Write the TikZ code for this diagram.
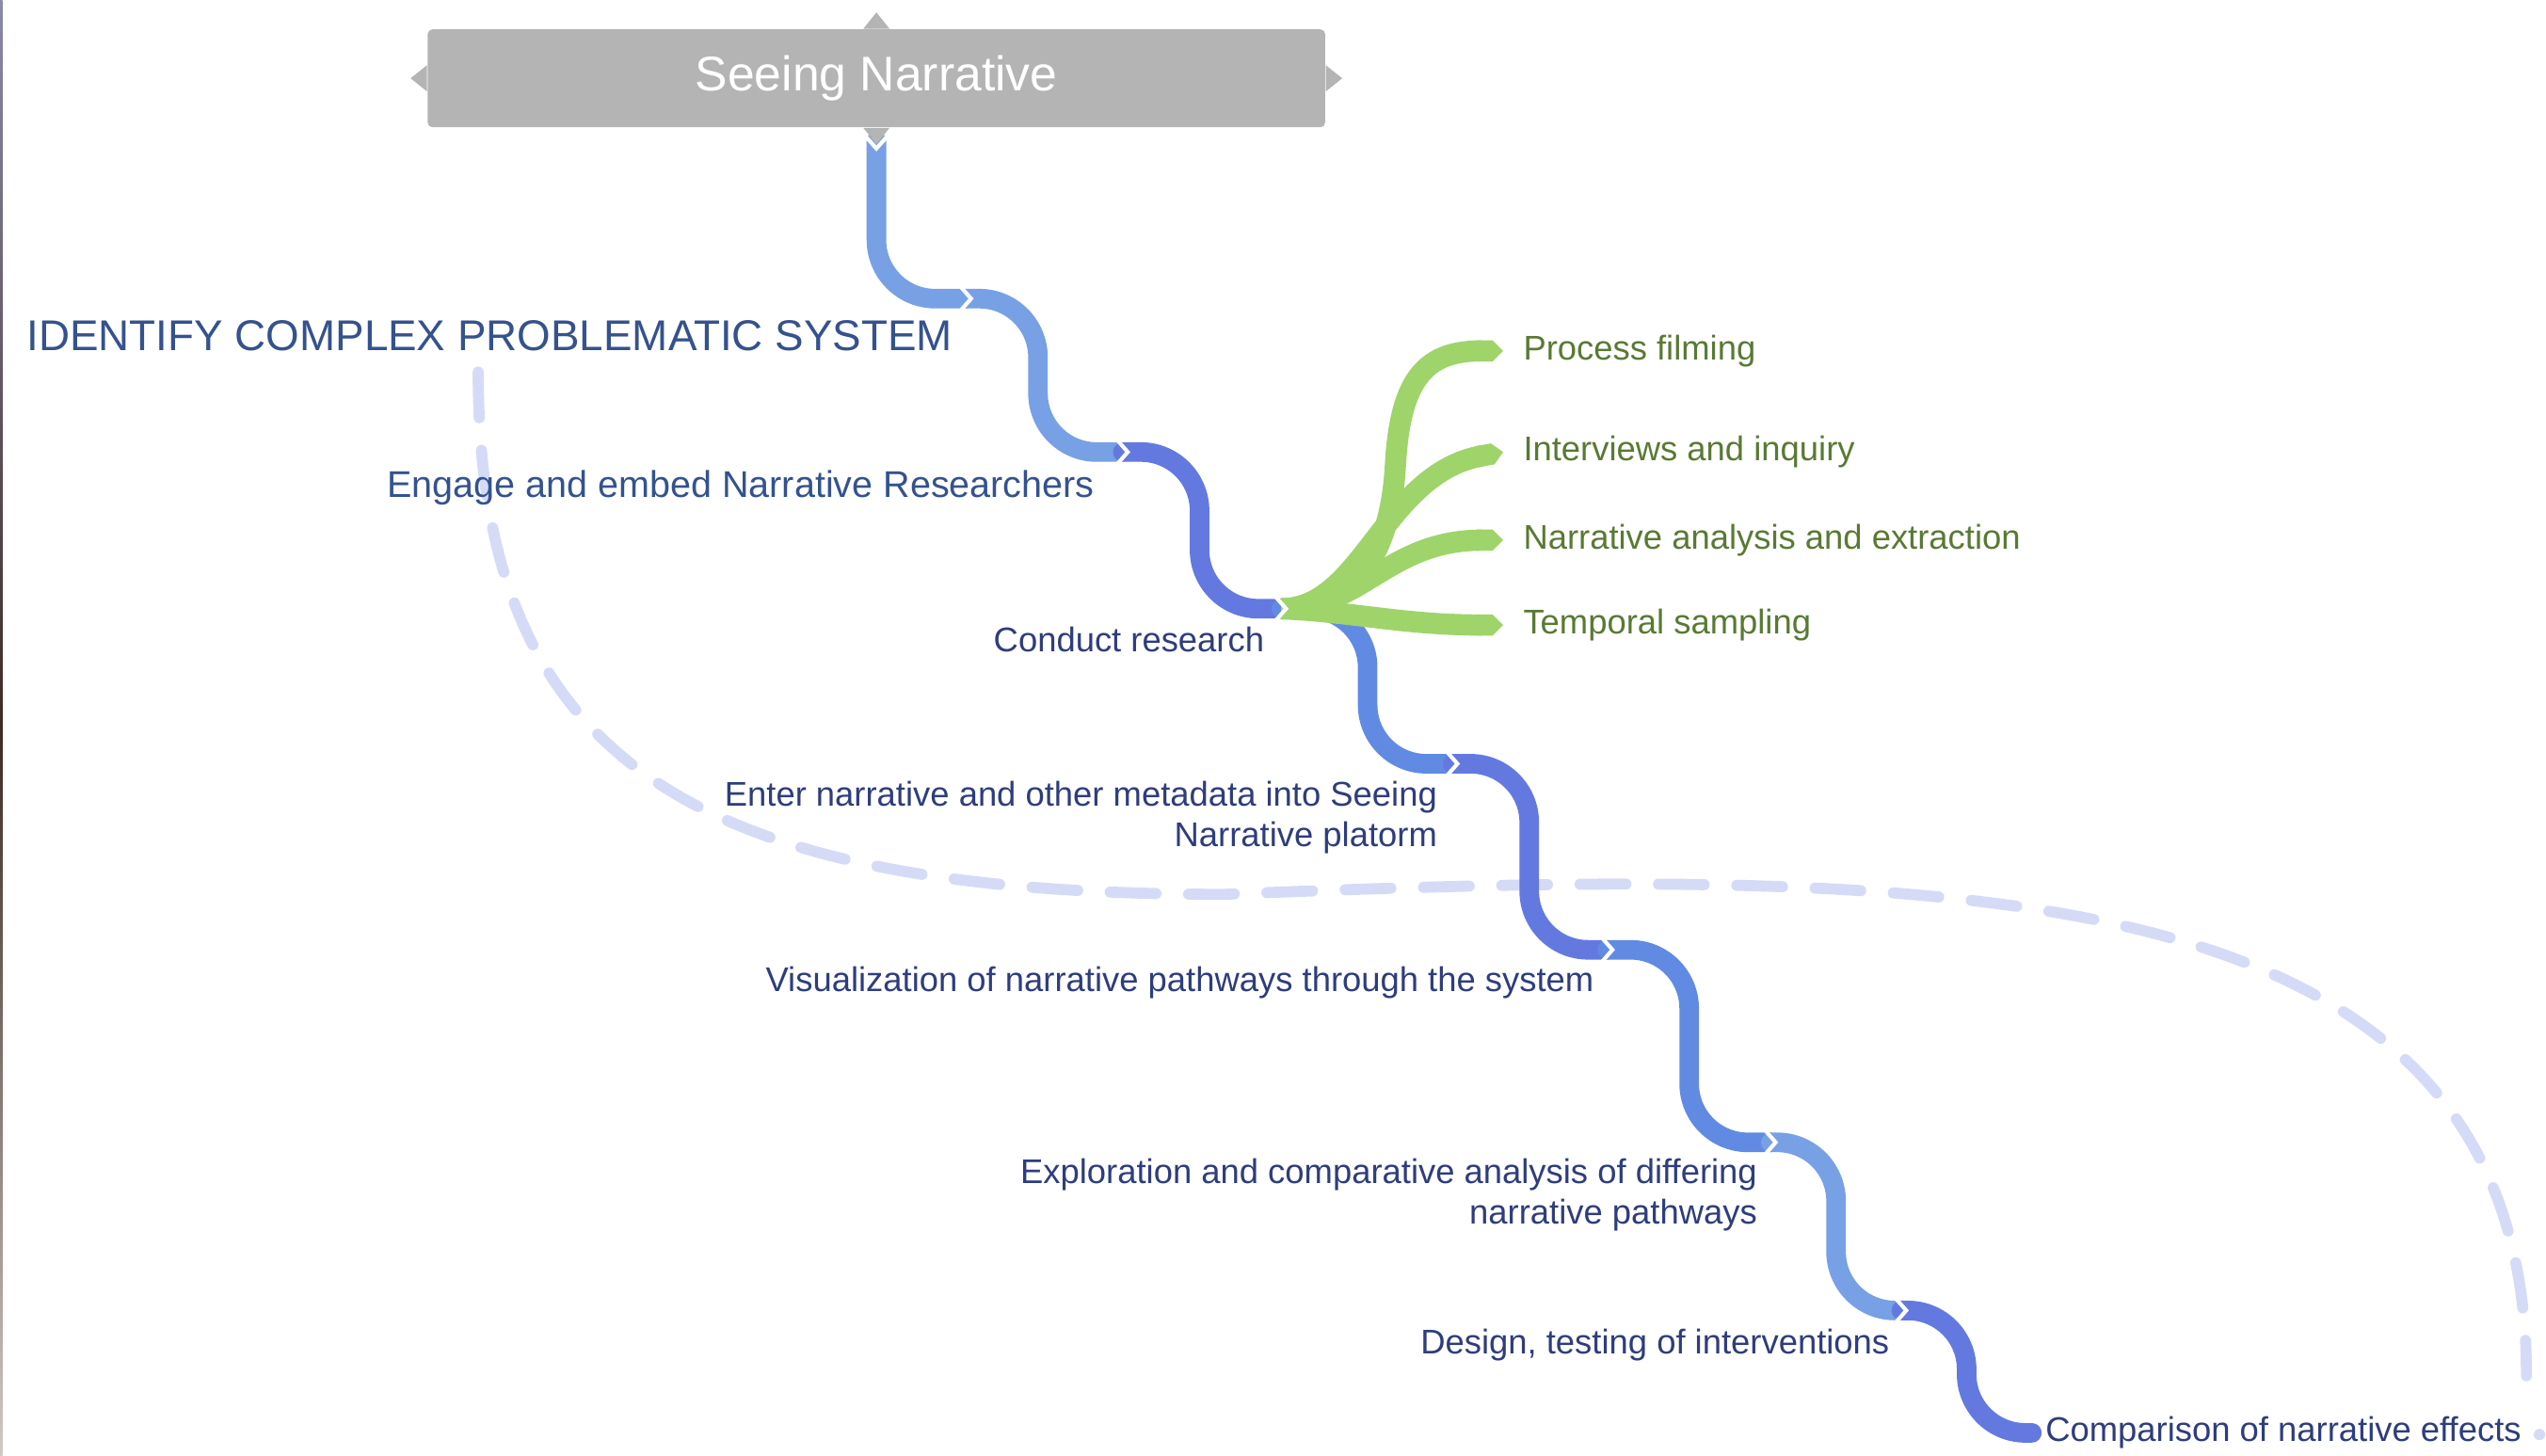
\documentclass[tikz,border=0pt]{standalone}
\usepackage{fontspec}
\setmainfont{Liberation Sans}
\usepackage{tikz}
\usetikzlibrary{arrows.meta}
\definecolor{boxgray}{HTML}{B4B4B4}
\definecolor{blueA}{HTML}{78A0E5}
\definecolor{blueB}{HTML}{6479E0}
\definecolor{blueC}{HTML}{618BE2}
\definecolor{leafgreen}{HTML}{9FD46A}
\definecolor{navytext}{HTML}{2E3D7C}
\definecolor{identtext}{HTML}{34528D}
\definecolor{leaftext}{HTML}{587A33}
\definecolor{relblue}{HTML}{D5DBF7}
\definecolor{edgetop}{HTML}{8A8AA8}
\definecolor{edgemid}{HTML}{3E2A24}
\definecolor{edgebot}{HTML}{D0C8C4}

\begin{document}
\begin{tikzpicture}[x=0.5pt,y=-0.5pt]
\tikzset{titlebox/.style = {fill=boxgray, text=white, rounded corners=1.5pt, minimum width=275pt, minimum height=30pt, font=\fontsize{14.9}{18}\selectfont}}
\tikzset{lbl/.style = {anchor=east, inner sep=0pt, text=navytext, align=right, font=\fontsize{10.5}{12.5}\selectfont}}
\tikzset{leaf/.style = {anchor=west, inner sep=0pt, text=leaftext, font=\fontsize{10.5}{12.5}\selectfont}}
\tikzset{pipe/.style = {line width=6pt, line cap=round, rounded corners=18pt}}
\tikzset{twig/.style = {leafgreen, line width=6.5pt, -{Triangle Cap[]}}}
\tikzset{notch/.style = {white, line width=1.2pt}}
\tikzset{rel/.style = {relblue, line width=3.4pt, line cap=round, dash pattern=on 14pt off 10pt}}
\useasboundingbox (0,0) rectangle (1560,892);
\shade[top color=edgetop, bottom color=edgebot, middle color=edgemid] (0,0) rectangle (1.5,892);
% joints
\coordinate (j1) at (592,183);
\coordinate (j2) at (688,277);
\coordinate (j3) at (785,373);
\coordinate (j4) at (890,468);
\coordinate (j5) at (985,582);
\coordinate (j6) at (1085,700);
\coordinate (j7) at (1165,803);
\coordinate (j8) at (1245,878);
\coordinate (rs) at (293,228);
\coordinate (re) at (1556,879);
% title
\node[titlebox] (root) at (537,48) {Seeing Narrative};
% relation
\draw[rel] (rs) .. controls (293,470) and (430,548) .. (750,548)
  .. controls (1200,530) and (1548,530) .. (1548,843);
\fill[relblue] (re) circle (3.5);
% main line
\draw[pipe, blueA] ([yshift=-4pt]root.south) |- (j1);
\foreach \a/\b/\s/\c in {j1/j2/26pt/blueA, j2/j3/25pt/blueB, j3/j4/26pt/blueC, j4/j5/24pt/blueB,
  j5/j6/25pt/blueC, j6/j7/20pt/blueA, j7/j8/20pt/blueB}
  \draw[pipe, \c] (\a) -| ([xshift=-\s]\b) -- (\b);
\draw[notch] (529,82) -- (537,91) -- (545,82);
\fill[boxgray] ([xshift=-4pt]root.south) -- ([yshift=-5pt]root.south) -- ([xshift=4pt]root.south) -- cycle;
\fill[boxgray] ([xshift=-4pt]root.north) -- ([yshift=5pt]root.north) -- ([xshift=4pt]root.north) -- cycle;
\fill[boxgray] ([yshift=-4pt]root.west) -- ([xshift=-5pt]root.west) -- ([yshift=4pt]root.west) -- cycle;
\fill[boxgray] ([yshift=-4pt]root.east) -- ([xshift=5pt]root.east) -- ([yshift=4pt]root.east) -- cycle;
% labels
\node[lbl, text=identtext, font=\fontsize{13.2}{16}\selectfont] (ident) at (584,206) {IDENTIFY COMPLEX PROBLEMATIC SYSTEM};
\node[lbl, text=identtext, font=\fontsize{11.4}{13.5}\selectfont] (engage) at (671,299) {Engage and embed Narrative Researchers};
\node[lbl] (conduct) at (775,392) {Conduct research};
\node[lbl] (enter) at (881,501) {Enter narrative and other metadata into Seeing\\Narrative platorm};
\node[lbl] (visual) at (977,602) {Visualization of narrative pathways through the system};
\node[lbl] (explore) at (1077,732) {Exploration and comparative analysis of differing\\narrative pathways};
\node[lbl] (design) at (1158,824) {Design, testing of interventions};
\node[lbl, anchor=west] (compare) at (1253,878) {Comparison of narrative effects};
\node[leaf] (film) at (933,215) {Process filming};
\node[leaf] (inquiry) at (933,277) {Interviews and inquiry};
\node[leaf] (analysis) at (933,331) {Narrative analysis and extraction};
\node[leaf] (sampling) at (933,383) {Temporal sampling};
% branches
\draw[twig] (j3) .. controls (830,373) and (852,340) .. (855,285)
  .. controls (858,230) and (875,215) .. ([xshift=-6pt]film.west);
\draw[twig] (j3) .. controls (835,373) and (848,290) .. ([xshift=-6pt]inquiry.west);
\draw[twig] (j3) .. controls (835,373) and (850,331) .. ([xshift=-6pt]analysis.west);
\draw[twig] (j3) .. controls (830,375) and (860,383) .. ([xshift=-6pt]sampling.west);
% notches
\foreach \j in {j1,j2,j3,j4,j5,j6,j7}
  \draw[notch] ([shift={(-4,-8)}]\j) -- ([shift={(3,0)}]\j) -- ([shift={(-4,8)}]\j);
\end{tikzpicture}
\end{document}
